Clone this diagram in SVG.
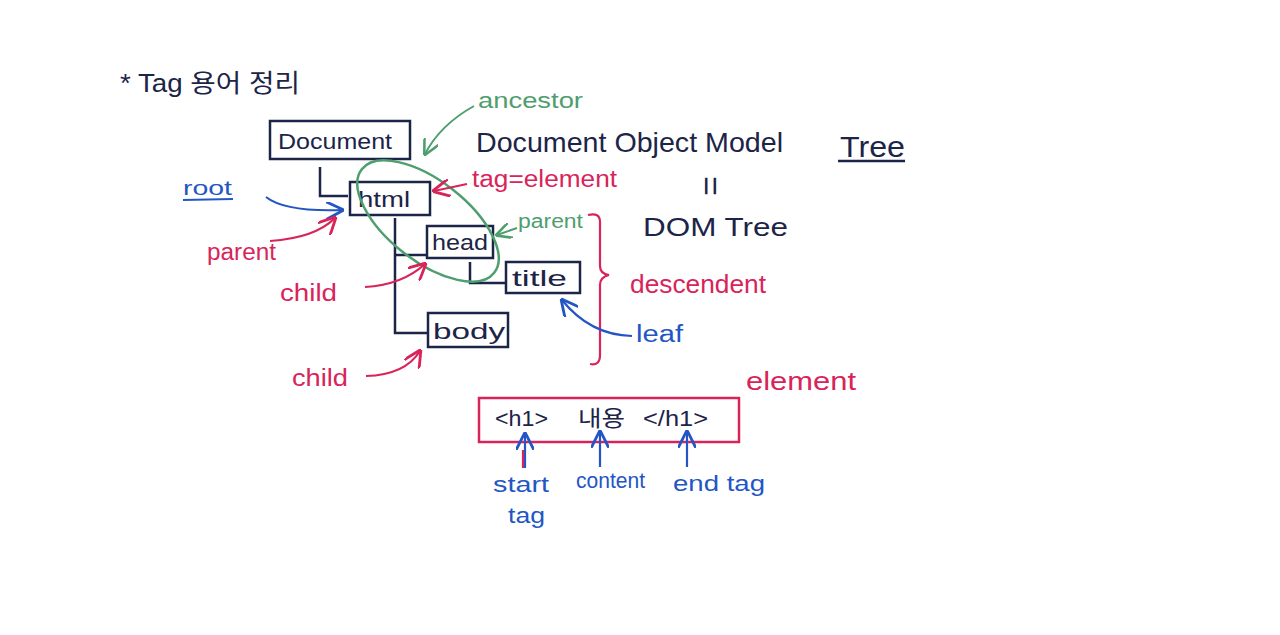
<svg xmlns="http://www.w3.org/2000/svg" width="1280" height="635" viewBox="0 0 1280 635">
<style>
text{font-family:"Liberation Sans","Noto Sans CJK KR",sans-serif}
.n{fill:#1c2447}
.r{fill:#d8245a}
.g{fill:#4e9e6e}
.b{fill:#2356c4}
.box{fill:none;stroke:#1c2447;stroke-width:2.5}
.ln{fill:none;stroke:#1c2447;stroke-width:2.5}
.ra{fill:none;stroke:#d8245a;stroke-width:2.2}
.ga{fill:none;stroke:#4e9e6e;stroke-width:2}
.ba{fill:none;stroke:#2356c4;stroke-width:2.2}
</style>
<defs>
<marker id="mr" viewBox="0 0 10 10" refX="9" refY="5" markerWidth="8" markerHeight="8" orient="auto"><path d="M0,0 L10,5 L0,10" fill="none" stroke="#d8245a" stroke-width="1.6"/></marker>
<marker id="mg" viewBox="0 0 10 10" refX="9" refY="5" markerWidth="8" markerHeight="8" orient="auto"><path d="M0,0 L10,5 L0,10" fill="none" stroke="#4e9e6e" stroke-width="1.6"/></marker>
<marker id="mb" viewBox="0 0 10 10" refX="9" refY="5" markerWidth="8" markerHeight="8" orient="auto"><path d="M0,0 L10,5 L0,10" fill="none" stroke="#2356c4" stroke-width="1.6"/></marker>
</defs>
<rect width="1280" height="635" fill="#fff"/>

<text class="n" x="120" y="92" font-size="25" textLength="180" lengthAdjust="spacingAndGlyphs">* Tag 용어 정리</text>

<g id="connectors">
<path class="ln" d="M320,167 V196 H348"/>
<path class="ln" d="M395,218 V333 H428"/>
<path class="ln" d="M395,255 H427"/>
<path class="ln" d="M470,262 V283 H506"/>
</g>

<g id="document"><rect class="box" x="270" y="121" width="140" height="38"/><text class="n" x="278" y="149" font-size="22" textLength="114" lengthAdjust="spacingAndGlyphs">Document</text></g>
<g id="html"><rect class="box" x="350" y="182" width="80" height="33"/><text class="n" x="358" y="207" font-size="22" textLength="52" lengthAdjust="spacingAndGlyphs">html</text></g>
<g id="head"><rect class="box" x="427" y="226" width="66" height="32"/><text class="n" x="432" y="250" font-size="22" textLength="56" lengthAdjust="spacingAndGlyphs">head</text></g>
<g id="title"><rect class="box" x="506" y="262" width="74" height="31"/><text class="n" x="512" y="286" font-size="22" textLength="55" lengthAdjust="spacingAndGlyphs">title</text></g>
<g id="body"><rect class="box" x="428" y="313" width="80" height="34"/><text class="n" x="433" y="339" font-size="22" textLength="72" lengthAdjust="spacingAndGlyphs">body</text></g>

<g id="ancestor-circle"><ellipse cx="428" cy="221" rx="84" ry="40" transform="rotate(38 428 221)" fill="none" stroke="#4e9e6e" stroke-width="2.5"/></g>

<g id="labels">
<text class="g" x="478" y="108" font-size="22" textLength="105" lengthAdjust="spacingAndGlyphs">ancestor</text>
<path class="ga" d="M474,106 Q440,125 425,154" marker-end="url(#mg)"/>

<text class="n" x="476" y="152" font-size="28" textLength="307" lengthAdjust="spacingAndGlyphs">Document Object Model</text>
<text class="n" x="840" y="157" font-size="30" textLength="65" lengthAdjust="spacingAndGlyphs">Tree</text>
<line x1="838" y1="161" x2="905" y2="161" stroke="#1c2447" stroke-width="2.5"/>
<text class="n" x="710" y="186" font-size="34" text-anchor="middle" transform="rotate(90 710 186)" dy="11">=</text>
<text class="n" x="643" y="236" font-size="26" textLength="145" lengthAdjust="spacingAndGlyphs">DOM Tree</text>

<text class="r" x="472" y="187" font-size="23" textLength="145" lengthAdjust="spacingAndGlyphs">tag=element</text>
<path class="ra" d="M467,184 L434,191" marker-end="url(#mr)"/>

<text class="g" x="518" y="228" font-size="20" textLength="65" lengthAdjust="spacingAndGlyphs">parent</text>
<path class="ga" d="M517,228 L497,235" marker-end="url(#mg)"/>

<path class="ra" d="M588,215 Q600,212 600,222 V266 Q600,274 609,275 Q600,277 600,285 V355 Q600,366 590,364"/>
<text class="r" x="630" y="293" font-size="25" textLength="136" lengthAdjust="spacingAndGlyphs">descendent</text>

<text class="b" x="636" y="342" font-size="23" textLength="47" lengthAdjust="spacingAndGlyphs">leaf</text>
<path class="ba" d="M632,336 Q590,335 562,300" marker-end="url(#mb)"/>

<text class="b" x="183" y="195" font-size="20" textLength="49" lengthAdjust="spacingAndGlyphs">root</text>
<line x1="183" y1="200" x2="233" y2="199" stroke="#2356c4" stroke-width="2"/>
<path class="ba" d="M266,197 Q285,212 342,210" marker-end="url(#mb)"/>

<text class="r" x="207" y="260" font-size="23" textLength="69" lengthAdjust="spacingAndGlyphs">parent</text>
<path class="ra" d="M270,241 Q315,238 335,218" marker-end="url(#mr)"/>

<text class="r" x="280" y="301" font-size="23" textLength="57" lengthAdjust="spacingAndGlyphs">child</text>
<path class="ra" d="M365,287 Q402,285 425,264" marker-end="url(#mr)"/>

<text class="r" x="292" y="386" font-size="23" textLength="56" lengthAdjust="spacingAndGlyphs">child</text>
<path class="ra" d="M366,376 Q405,375 420,351" marker-end="url(#mr)"/>
</g>

<g id="element">
<rect x="479" y="398" width="260" height="44" fill="none" stroke="#d8245a" stroke-width="2.5"/>
<text class="n" x="495" y="426" font-size="22" textLength="53" lengthAdjust="spacingAndGlyphs">&lt;h1&gt;</text>
<text class="n" x="578" y="426" font-size="22" textLength="47" lengthAdjust="spacingAndGlyphs">내용</text>
<text class="n" x="643" y="426" font-size="22" textLength="65" lengthAdjust="spacingAndGlyphs">&lt;/h1&gt;</text>
<text class="r" x="746" y="390" font-size="25" textLength="110" lengthAdjust="spacingAndGlyphs">element</text>
</g>

<g id="parts">
<path class="ba" d="M525,468 V434" marker-end="url(#mb)"/>
<path class="ra" d="M523,468 V450" stroke-width="1.6"/>
<path class="ba" d="M600,467 V432" marker-end="url(#mb)"/>
<path class="ba" d="M687,467 V432" marker-end="url(#mb)"/>
<text class="b" x="493" y="492" font-size="22" textLength="56" lengthAdjust="spacingAndGlyphs">start</text>
<text class="b" x="508" y="523" font-size="22" textLength="37" lengthAdjust="spacingAndGlyphs">tag</text>
<text class="b" x="576" y="488" font-size="22" textLength="69" lengthAdjust="spacingAndGlyphs">content</text>
<text class="b" x="673" y="491" font-size="22" textLength="92" lengthAdjust="spacingAndGlyphs">end tag</text>
</g>
</svg>
